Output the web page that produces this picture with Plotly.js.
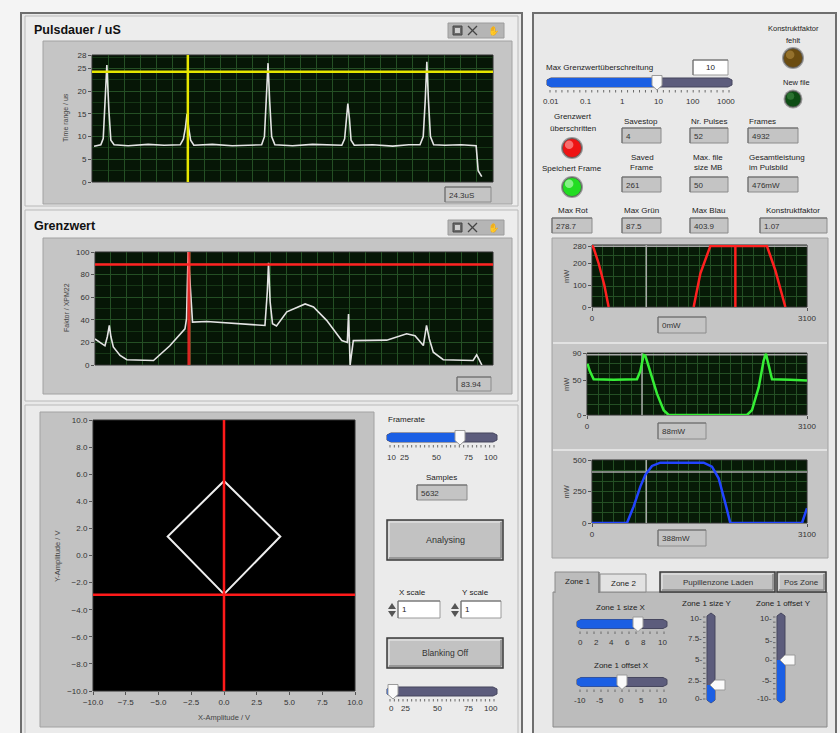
<!DOCTYPE html>
<html><head><meta charset="utf-8">
<script src="https://cdn.plot.ly/plotly-3.0.1.min.js"></script>
<style>html,body{margin:0;padding:0;background:#f4f4f4;overflow:hidden}#g{width:840px;height:733px}</style>
</head><body><div id="g"></div>
<script>
// ---------------- DATA ----------------
const pulsX = [0.5, 2.2, 2.8, 3.2, 3.7, 4.2, 4.7, 5.5, 9, 14, 18, 22.0, 22.8, 23.3, 23.7, 24.1, 24.6, 25.4, 30, 35, 39, 42.3, 43.0, 43.5, 43.9, 44.3, 44.8, 45.6, 50, 55, 60, 62.3, 63.0, 63.4, 63.8, 64.2, 64.6, 65.4, 70, 75, 79, 81.8, 82.6, 83.1, 83.5, 83.9, 84.4, 85.2, 88, 92, 95.8, 96.3, 97.2];
const pulsY = [7.9, 8.2, 9.6, 16, 25.8, 16, 9.2, 8.2, 8.0, 8.3, 8.1, 8.2, 9.5, 12, 15, 12, 9.2, 8.1, 8.3, 8.0, 8.2, 8.2, 10, 18, 26.2, 18, 10, 8.2, 8.0, 8.3, 8.1, 8.1, 9.5, 14, 17.3, 14, 9.2, 8.1, 8.2, 7.9, 8.2, 8.2, 10, 18, 26.5, 18, 10, 8.2, 8.1, 8.2, 8.0, 2.5, 1.2];
const pulsLimit = 24.3;
const pulsCursor = 23.9;
const pulsTickVals = [0, 5, 10, 15, 20, 25, 28];
const pulsReadout = "24.3uS";

const grenzX = [0,1.3,2.5,3.1,3.6,4.0,4.6,6.3,8.0,14.7,18.8,22.6,23.0,23.4,23.9,24.5,28.1,35.6,42.7,43.3,43.6,44.0,44.6,45.6,48.2,52.8,54.9,58.2,62.0,63.4,63.7,63.9,64.1,64.9,73.3,78.3,80.4,82.5,83.3,84.0,85.0,87.5,95.0,95.9,96.6,97.2];
const grenzY = [23,20,17,25,35,25,16,8.5,4.7,4,17,32,41,100,68,38,38.5,36.5,35,65,90.5,56,36.5,34.5,47,54,51.3,39.5,21.6,20,45,23,0,21.6,22,27.6,26,17.2,35,23,11.3,4.7,4,8.9,4.7,0];
const grenzLimit = 89;
const grenzCursor = 23.6;
const grenzTickVals = [0, 20, 40, 60, 80, 100];
const grenzReadout = "83.94";

const xyX = [0, 4.3, 0, -4.3, 0];
const xyY = [5.5, 1.4, -2.85, 1.4, 5.5];
const xyCursorX = 0;
const xyCursorY = -2.9;

const redX = [0, 25, 96, 178, 240, null, 1466, 1562, 1706, 2523, 2643, 2788];
const redY = [285, 270, 200, 100, 0, null, 0, 154, 280, 280, 169, 0];
const redMarker = 2067;
const greenX = [0, 9, 38, 94, 376, 704, 752, 798, 822, 892, 986, 1080, 1151, 2254, 2325, 2419, 2489, 2522, 2560, 2607, 2865, 3100];
const greenY = [70, 74, 64, 52, 51, 52, 64, 87, 86, 64, 31, 7, 0, 0, 7, 40, 79, 89, 74, 52, 51, 50];
const blueX = [0, 505, 601, 697, 769, 865, 985, 1610, 1730, 1826, 1922, 1994, 3028, 3100];
const blueY = [0, 0, 132, 289, 382, 453, 479, 479, 447, 355, 158, 0, 0, 118];
const specCursor = [783, 775, 783];
const specMax = [278.7, 87.5, 403.9];
const specRange = [285, 90, 500];
const specTicks = [[0, 100, 200, 280], [0, 50, 90], [0, 250, 500]];
const specXTicks = [0, 3100];
const specReadouts = ["0mW", "88mW", "388mW"];

const indicators = {
  savestop: "4", pulses: "52", frames: "4932",
  savedFrame: "261", fileSize: "50", power: "476mW",
  maxRot: "278.7", maxGruen: "87.5", maxBlau: "403.9", konstrukt: "1.07",
  grenzMax: "10", samples: "5632", xscale: "1", yscale: "1"
};
const grenzSliderLabels = ["0.01", "0.1", "1", "10", "100", "1000"];
const frameLabels = ["10", "25", "50", "75", "100"];
const blankLabels = ["0", "25", "50", "75", "100"];
const sizeXLabels = ["0", "2", "4", "6", "8", "10"];
const offXLabels = ["-10", "-5", "0", "5", "10"];
const sizeYLabels = ["10", "7.5", "5", "2.5", "0"];
const offYLabels = ["10", "5", "0", "-5", "-10"];

// ---------------- HELPERS ----------------
const F = 'Liberation Sans, Arial, sans-serif';
const W = 840, H = 733;
const shapes = [], ann = [];
const X = v => v / W, Y = v => 1 - v / H;
const NONE = 'rgba(0,0,0,0)';
function R(x0, y0, x1, y1, fill, line, lw) {
  shapes.push({type:'rect', xref:'paper', yref:'paper', x0:X(x0), x1:X(x1), y0:Y(y1), y1:Y(y0),
    fillcolor: fill || NONE, line:{color: line || NONE, width: line ? (lw || 1) : 0}, layer:'below'});
}
function Ln(x0, y0, x1, y1, c, w) {
  shapes.push({type:'line', xref:'paper', yref:'paper', x0:X(x0), x1:X(x1), y0:Y(y0), y1:Y(y1),
    line:{color:c, width:w || 1}, layer:'below'});
}
function Ci(cx, cy, r, fill, line, lw) {
  shapes.push({type:'circle', xref:'paper', yref:'paper', x0:X(cx - r), x1:X(cx + r), y0:Y(cy + r), y1:Y(cy - r),
    fillcolor: fill, line:{color: line || NONE, width: line ? (lw || 1) : 0}, layer:'below'});
}
function Pg(pts, fill, line, lw) {
  const d = 'M' + pts.map(p => X(p[0]).toFixed(5) + ',' + Y(p[1]).toFixed(5)).join('L') + 'Z';
  shapes.push({type:'path', xref:'paper', yref:'paper', path:d, fillcolor:fill,
    line:{color: line || NONE, width: line ? (lw || 1) : 0}, layer:'below'});
}
function T(x, y, s, o) {
  o = o || {};
  ann.push({xref:'paper', yref:'paper', x:X(x), y:Y(y), text:s, showarrow:false,
    xanchor:o.a || 'center', yanchor:'middle', textangle:o.r || 0, borderpad:0,
    font:{family:F, size:o.s || 8, color:o.c || '#222', weight: o.b ? 700 : 400}});
}
function Btn(x0, y0, x1, y1, label, size) {
  R(x0, y0, x1, y1, '#c2c2c2', '#3a3a3a', 1.5);
  Ln(x0 + 2, y0 + 2, x1 - 2, y0 + 2, '#eeeeee', 1);
  Ln(x0 + 2, y0 + 2, x0 + 2, y1 - 2, '#eeeeee', 1);
  Ln(x0 + 2, y1 - 2, x1 - 2, y1 - 2, '#8a8a8a', 1.5);
  Ln(x1 - 2, y0 + 2, x1 - 2, y1 - 2, '#8a8a8a', 1.5);
  T((x0 + x1) / 2, (y0 + y1) / 2, label, {s: size || 8.5, c:'#333'});
}
function Ind(x0, y0, x1, y1, txt) {
  R(x0, y0, x1, y1, '#c4c4c4', '#8c8c8c', 1);
  Ln(x0, y0, x1, y0, '#6a6a6a', 1);
  Ln(x0, y0, x0, y1, '#6a6a6a', 1);
  T(x0 + 3, (y0 + y1) / 2 + 0.5, txt, {a:'left', s:8, c:'#333'});
}
function WBox(x0, y0, x1, y1, txt, align) {
  R(x0, y0, x1, y1, '#ffffff', '#9a9a9a', 1);
  Ln(x0, y0, x1, y0, '#6a6a6a', 1);
  Ln(x0, y0, x0, y1, '#6a6a6a', 1);
  if (align === 'left') T(x0 + 3, (y0 + y1) / 2, txt, {a:'left', s:8});
  else T((x0 + x1) / 2, (y0 + y1) / 2, txt, {s:8});
}
function HS(x0, x1, yc, th, nTicks, labels, ly) {
  const h = 4.5;
  Pg([[x0 + 4, yc - h], [x1 - 4, yc - h], [x1, yc - h + 2], [x1, yc + h - 2], [x1 - 4, yc + h], [x0 + 4, yc + h], [x0, yc + h - 2], [x0, yc - h + 2]], '#5c5c7c', '#46465e', 1);
  Pg([[x0 + 4, yc - h], [th, yc - h], [th, yc + h], [x0 + 4, yc + h], [x0, yc + h - 2], [x0, yc - h + 2]], '#1b5fe4');
  for (let i = 0; i <= nTicks; i++) {
    const t = x0 + 3 + (x1 - x0 - 6) * i / nTicks;
    Ln(t, yc + h + 3, t, yc + h + 5.5, '#6a6a6a', 1);
  }
  labels.forEach(l => T(l[0], ly, l[1], {s:8, c:'#333'}));
  Pg([[th - 5, yc - 7], [th + 5, yc - 7], [th + 5, yc + 3], [th, yc + 7.5], [th - 5, yc + 3]], '#fafafa', '#9a9a9a', 1);
}
function VS(xc, y0, y1, th, labels, lx) {
  const w = 4;
  Pg([[xc - w, y0 + 3], [xc, y0], [xc + w, y0 + 3], [xc + w, y1 - 3], [xc, y1], [xc - w, y1 - 3]], '#5c5c7c', '#46465e', 1);
  Pg([[xc - w, th], [xc + w, th], [xc + w, y1 - 3], [xc, y1], [xc - w, y1 - 3]], '#1b5fe4');
  for (let i = 0; i <= 16; i++) {
    const t = y0 + 4 + (y1 - y0 - 8) * i / 16;
    Ln(xc - w - 4, t, xc - w - 1.5, t, '#6a6a6a', 1);
  }
  labels.forEach(l => T(lx, l[0], l[1] + '-', {a:'right', s:8, c:'#333'}));
  Pg([[xc - 1, th], [xc + 4, th - 5], [xc + 14, th - 5], [xc + 14, th + 5], [xc + 4, th + 5]], '#fafafa', '#9a9a9a', 1);
}
function LED(cx, cy, r, col, hi) {
  Ci(cx, cy, r + 1.5, '#9a9a9a', null);
  Ci(cx, cy, r, col, '#555', 0.8);
  Ci(cx - r * 0.3, cy - r * 0.35, r * 0.45, hi, null);
}
function Toolbar(x0, y0) {
  R(x0, y0, x0 + 56, y0 + 15, '#b5b5b5', '#9c9c9c', 1);
  R(x0 + 5, y0 + 3, x0 + 14, y0 + 12, '#6c6c6c', '#444', 1);
  R(x0 + 7, y0 + 5, x0 + 12, y0 + 10, '#cfcfcf', null);
  Ln(x0 + 20, y0 + 12, x0 + 29, y0 + 3, '#444', 1.3);
  Ln(x0 + 20, y0 + 3, x0 + 29, y0 + 12, '#444', 1.3);
  T(x0 + 45, y0 + 7.5, '✋', {s:9, c:'#333'});
}

// ---------------- PANELS ----------------
R(21, 13, 522, 745, '#e9e9e9', '#6e6e6e', 2);
R(25, 16, 518, 206, '#ededed', '#b9b9b9', 1);
R(25, 210, 518, 401, '#ededed', '#b9b9b9', 1);
R(25, 405, 518, 745, '#ebebeb', '#b9b9b9', 1);
T(33, 30, 'Pulsdauer / uS', {a:'left', s:12.5, b:true, c:'#111'});
T(33, 226, 'Grenzwert', {a:'left', s:12.5, b:true, c:'#111'});
Toolbar(448, 23);
Toolbar(448, 220);
R(43, 41, 512, 204, '#c5c5c5', '#a2a2a2', 1);
R(43, 238, 512, 394, '#c5c5c5', '#a2a2a2', 1);
R(40, 412, 374, 727, '#c2c2c2', '#a2a2a2', 1);
const P1 = [92, 55, 493, 182], P2 = [95, 252, 493, 365], P3 = [93, 420, 355, 691];
R(P1[0], P1[1], P1[2], P1[3], '#061606', '#2f2f2f', 1);
R(P2[0], P2[1], P2[2], P2[3], '#061606', '#2f2f2f', 1);
R(P3[0], P3[1], P3[2], P3[3], '#000000', '#2f2f2f', 1);
Ind(445, 187, 491, 202, pulsReadout);
Ind(457, 377, 491, 391, grenzReadout);
T(66, 118, 'Time range / us', {r:-90, s:7, c:'#444'});
T(66, 308, 'Faktor / XPM22', {r:-90, s:7, c:'#444'});
T(57, 556, 'Y-Amplitude / V', {r:-90, s:7.5, c:'#444'});
T(224, 717, 'X-Amplitude / V', {s:7.5, c:'#444'});

T(387, 419, 'Framerate', {a:'left', s:8});
HS(387, 497, 437.5, 460, 24, [[391, frameLabels[0]], [404, frameLabels[1]], [436, frameLabels[2]], [468, frameLabels[3]], [491, frameLabels[4]]], 457);
T(441, 477, 'Samples', {s:8});
Ind(417, 485, 467, 500, indicators.samples);
Btn(387, 520, 503, 560, 'Analysing', 9);
T(412, 592, 'X scale', {s:8});
T(475, 592, 'Y scale', {s:8});
Pg([[388, 609], [392, 603], [396, 609]], '#555');
Pg([[388, 611], [392, 617], [396, 611]], '#555');
WBox(398, 601, 440, 618, indicators.xscale, 'left');
Pg([[451, 609], [455, 603], [459, 609]], '#555');
Pg([[451, 611], [455, 617], [459, 611]], '#555');
WBox(461, 601, 501, 618, indicators.yscale, 'left');
Btn(387, 638, 503, 668, 'Blanking Off', 8.5);
HS(387, 497, 691.5, 393, 24, [[391, blankLabels[0]], [405, blankLabels[1]], [437, blankLabels[2]], [468, blankLabels[3]], [491, blankLabels[4]]], 708);

R(533, 13, 836, 745, '#e9e9e9', '#6e6e6e', 2);
T(793, 28, 'Konstruktfaktor', {s:7.5});
T(793, 40, 'fehlt', {s:7.5});
LED(793, 58, 9.5, '#6b4c10', 'rgba(200,160,80,0.45)');
T(796, 82, 'New file', {s:7.5});
LED(793, 99, 8, '#0d4d14', 'rgba(90,170,90,0.4)');
T(545, 67, 'Max Grenzwertüberschreitung', {a:'left', s:8});
WBox(693, 60, 728, 75, indicators.grenzMax);
HS(547, 732, 82.5, 657, 30, [[551, grenzSliderLabels[0]], [586, grenzSliderLabels[1]], [622, grenzSliderLabels[2]], [658, grenzSliderLabels[3]], [693, grenzSliderLabels[4]], [726, grenzSliderLabels[5]]], 101);
T(573, 117, 'Grenzwert', {s:8});
T(573, 128, 'überschritten', {s:8});
LED(572, 148, 9.5, '#ee1414', 'rgba(255,170,170,0.6)');
T(572, 169, 'Speichert Frame', {s:8});
LED(572, 187, 9.5, '#22dd22', 'rgba(200,255,200,0.6)');
T(641, 121, 'Savestop', {s:8});
T(709, 121, 'Nr. Pulses', {s:8});
T(748, 121, 'Frames', {a:'left', s:8});
Ind(622, 128, 661, 143, indicators.savestop);
Ind(690, 128, 728, 143, indicators.pulses);
Ind(748, 128, 798, 143, indicators.frames);
T(642, 157, 'Saved', {s:8});
T(642, 168, 'Frame', {s:8});
T(708, 157, 'Max. file', {s:8});
T(708, 168, 'size MB', {s:8});
T(748, 157, 'Gesamtleistung', {a:'left', s:8});
T(748, 168, 'im Pulsbild', {a:'left', s:8});
Ind(622, 177, 661, 192, indicators.savedFrame);
Ind(690, 177, 728, 192, indicators.fileSize);
Ind(748, 177, 798, 192, indicators.power);
T(573, 211, 'Max Rot', {s:8});
T(641, 211, 'Max Grün', {s:8});
T(708, 211, 'Max Blau', {s:8});
T(793, 211, 'Konstruktfaktor', {s:8});
Ind(552, 218, 592, 233, indicators.maxRot);
Ind(622, 218, 661, 233, indicators.maxGruen);
Ind(690, 218, 728, 233, indicators.maxBlau);
Ind(760, 218, 827, 233, indicators.konstrukt);

R(552, 238, 828, 558, '#c5c5c5', '#a2a2a2', 1);
Ln(553, 343, 827, 343, '#e2e2e2', 2);
Ln(553, 450, 827, 450, '#e2e2e2', 2);
const PS = [[592, 245, 807, 307], [587, 353, 807, 415], [592, 460, 807, 523]];
PS.forEach(p => R(p[0], p[1], p[2], p[3], '#071a07', '#2f2f2f', 1));
const roY = [325, 431, 538];
specReadouts.forEach((s, i) => Ind(658, roY[i] - 8, 706, roY[i] + 8, s));
PS.forEach(p => T(566, (p[1] + p[3]) / 2, 'mW', {r:-90, s:7.5, c:'#444'}));

R(553, 592, 827, 727, '#bcbcbc', '#8a8a8a', 1);
R(600, 574, 646, 592, '#e2e2e2', '#8a8a8a', 1);
T(623, 583, 'Zone 2', {s:8});
R(555, 572, 599, 593, '#bcbcbc', null);
Ln(555, 572, 599, 572, '#8a8a8a', 1);
Ln(555, 572, 555, 593, '#8a8a8a', 1);
Ln(599, 572, 599, 593, '#7a7a7a', 1.5);
T(577, 581, 'Zone 1', {s:8});
Btn(660, 572, 775, 592, 'Pupillenzone Laden', 8);
Btn(777, 572, 826, 592, 'Pos Zone', 8);
T(621, 607, 'Zone 1 size X', {s:8});
HS(577, 667, 624, 638, 12, [[580, sizeXLabels[0]], [596, sizeXLabels[1]], [611, sizeXLabels[2]], [627, sizeXLabels[3]], [643, sizeXLabels[4]], [662, sizeXLabels[5]]], 642);
T(621, 665, 'Zone 1 offset X', {s:8});
HS(577, 667, 682, 622, 12, [[580, offXLabels[0]], [600, offXLabels[1]], [621, offXLabels[2]], [641, offXLabels[3]], [662, offXLabels[4]]], 700);
T(706, 603, 'Zone 1 size Y', {s:8});
VS(711, 613, 703, 685, [[618, sizeYLabels[0]], [638, sizeYLabels[1]], [659, sizeYLabels[2]], [680, sizeYLabels[3]], [698, sizeYLabels[4]]], 703);
T(783, 603, 'Zone 1 offset Y', {s:8});
VS(781, 613, 703, 660, [[618, offYLabels[0]], [640, offYLabels[1]], [659, offYLabels[2]], [680, offYLabels[3]], [698, offYLabels[4]]], 773);

// ---------------- CHARTS ----------------
const dx = p => [p[0] / W, p[2] / W];
const dy = p => [1 - p[3] / H, 1 - p[1] / H];
const tf = {family:F, size:8, color:'#333'};
function ax(extra) {
  return Object.assign({fixedrange:true, showline:false, zeroline:false, ticks:'outside', ticklen:3,
    tickcolor:'#555', tickfont:tf, showgrid:false}, extra);
}
const gridMajor = '#244f24', gridMinor = '#163616';

const traces = [
  {x:pulsX, y:pulsY, xaxis:'x', yaxis:'y', type:'scatter', mode:'lines', line:{color:'#e4e4e4', width:1.6}},
  {x:grenzX, y:grenzY, xaxis:'x2', yaxis:'y2', type:'scatter', mode:'lines', line:{color:'#e4e4e4', width:1.6}},
  {x:xyX, y:xyY, xaxis:'x3', yaxis:'y3', type:'scatter', mode:'lines', line:{color:'#eeeeee', width:2}}
];
// gray cursor / max lines of the spectra, drawn under the coloured curves
['4', '5', '6'].forEach((k, i) => {
  traces.push({x:[specCursor[i], specCursor[i]], y:[0, specRange[i]], xaxis:'x' + k, yaxis:'y' + k, type:'scatter', mode:'lines', line:{color:'#a8a8a8', width:1.5}});
  traces.push({x:[0, specXTicks[1]], y:[specMax[i], specMax[i]], xaxis:'x' + k, yaxis:'y' + k, type:'scatter', mode:'lines', line:{color:'#a8a8a8', width:1.5}});
});
traces.push(
  {x:redX, y:redY, xaxis:'x4', yaxis:'y4', type:'scatter', mode:'lines', line:{color:'#ff2020', width:2.5}, connectgaps:false},
  {x:[redMarker, redMarker], y:[0, specMax[0]], xaxis:'x4', yaxis:'y4', type:'scatter', mode:'lines', line:{color:'#ff2020', width:2.5}},
  {x:greenX, y:greenY, xaxis:'x5', yaxis:'y5', type:'scatter', mode:'lines', line:{color:'#36ee36', width:2.5}},
  {x:blueX, y:blueY, xaxis:'x6', yaxis:'y6', type:'scatter', mode:'lines', line:{color:'#2244ff', width:2.5}}
);

function cur(xr, yr, x0, x1, y0, y1, col, w) {
  shapes.push({type:'line', xref:xr, yref:yr, x0, x1, y0, y1, line:{color:col, width:w}, layer:'above'});
}
cur('x domain', 'y', 0, 1, pulsLimit, pulsLimit, '#e6e600', 2.5);
cur('x', 'y domain', pulsCursor, pulsCursor, 0, 1, '#e6e600', 2.5);
cur('x2 domain', 'y2', 0, 1, grenzLimit, grenzLimit, '#ff2222', 2.5);
cur('x2', 'y2 domain', grenzCursor, grenzCursor, 0, 1, 'rgba(255,40,40,0.85)', 3);
cur('x3', 'y3 domain', xyCursorX, xyCursorX, 0, 1, '#ff1a1a', 2.5);
cur('x3 domain', 'y3', 0, 1, xyCursorY, xyCursorY, '#ff1a1a', 2.5);

const layout = {
  width:W, height:H, margin:{l:0, r:0, t:0, b:0}, paper_bgcolor:'#f4f4f4', plot_bgcolor:NONE,
  showlegend:false, shapes, annotations:ann, font:{family:F},
  xaxis: ax({domain:dx(P1), anchor:'y', range:[0, 100], showticklabels:false, ticks:'', showgrid:true, dtick:4, gridcolor:gridMajor}),
  yaxis: ax({domain:dy(P1), anchor:'x', range:[0, 28], tickmode:'array', tickvals:pulsTickVals, showgrid:true, gridcolor:gridMajor,
    minor:{dtick:2.5, tick0:0, showgrid:true, gridcolor:gridMinor}}),
  xaxis2: ax({domain:dx(P2), anchor:'y2', range:[0, 100], showticklabels:false, ticks:'', showgrid:true, dtick:4, gridcolor:gridMajor}),
  yaxis2: ax({domain:dy(P2), anchor:'x2', range:[0, 100], tickmode:'array', tickvals:grenzTickVals, showgrid:true, gridcolor:gridMajor,
    minor:{dtick:10, tick0:0, showgrid:true, gridcolor:gridMinor}}),
  xaxis3: ax({domain:dx(P3), anchor:'y3', range:[-10, 10], tickmode:'linear', tick0:-10, dtick:2.5, tickformat:'.1f'}),
  yaxis3: ax({domain:dy(P3), anchor:'x3', range:[-10, 10], tickmode:'linear', tick0:-10, dtick:2, tickformat:'.1f'})
};
['4', '5', '6'].forEach((k, i) => {
  layout['xaxis' + k] = ax({domain:dx(PS[i]), anchor:'y' + k, range:[0, 3100], tickmode:'array', tickvals:specXTicks,
    showgrid:false, minor:{dtick:155, tick0:0, showgrid:true, gridcolor:gridMajor, ticks:''}});
  layout['yaxis' + k] = ax({domain:dy(PS[i]), anchor:'x' + k, range:[0, specRange[i]], tickmode:'array', tickvals:specTicks[i],
    showgrid:false, minor:{dtick:specRange[i] / 6, tick0:0, showgrid:true, gridcolor:gridMajor, ticks:''}});
});

Plotly.newPlot('g', traces, layout, {staticPlot:true, displayModeBar:false});
</script>
</body></html>
